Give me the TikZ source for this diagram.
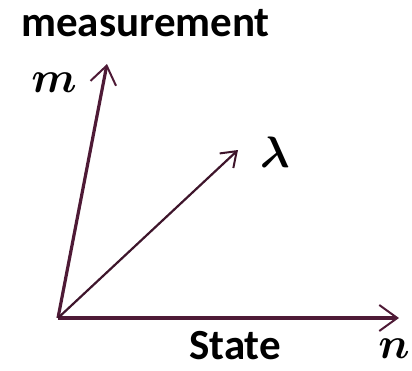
\documentclass[tikz,border=0pt]{standalone}
\usepackage{fix-cm}
\usepackage{amsmath}
\usepackage{bm}
\usepackage{fontspec}
\setmainfont{Carlito}
\usetikzlibrary{arrows.meta}
\definecolor{axis}{HTML}{4E1A36}
\begin{document}
\begin{tikzpicture}[x=1pt,y=-1pt,
  axisline/.style={draw=axis,line width=3.2pt,-{Straight Barb[length=18pt,width=26pt,line width=2pt]}},
  vecline/.style={draw=axis!80!black,line width=2.2pt,-{Straight Barb[length=14pt,width=20pt,line width=2pt]}},
  word/.style={font=\fontsize{43}{48}\selectfont\bfseries,inner sep=0pt},
  sym/.style={font=\fontsize{44}{48}\selectfont,inner sep=0pt}]
\useasboundingbox (0,0) rectangle (412,370);
\coordinate (o) at (58,318);
\coordinate (mt) at (107,64);
\coordinate (lt) at (238,150);
\coordinate (nt) at (399,318);
\draw[axisline] (o) -- (mt);
\draw[axisline] (o) -- (nt);
\draw[vecline] (o) -- (lt);
\node[word,anchor=base west] (meas) at (21,36) {measurement};
\node[word,anchor=base west] (state) at (189,359) {State};
\node[sym,anchor=base] (m) at (54,92) {$\bm{m}$};
\node[sym,anchor=base] (lam) at (275,167) {$\bm{\lambda}$};
\node[sym,anchor=base] (n) at (394,358) {$\bm{n}$};
\end{tikzpicture}
\end{document}
